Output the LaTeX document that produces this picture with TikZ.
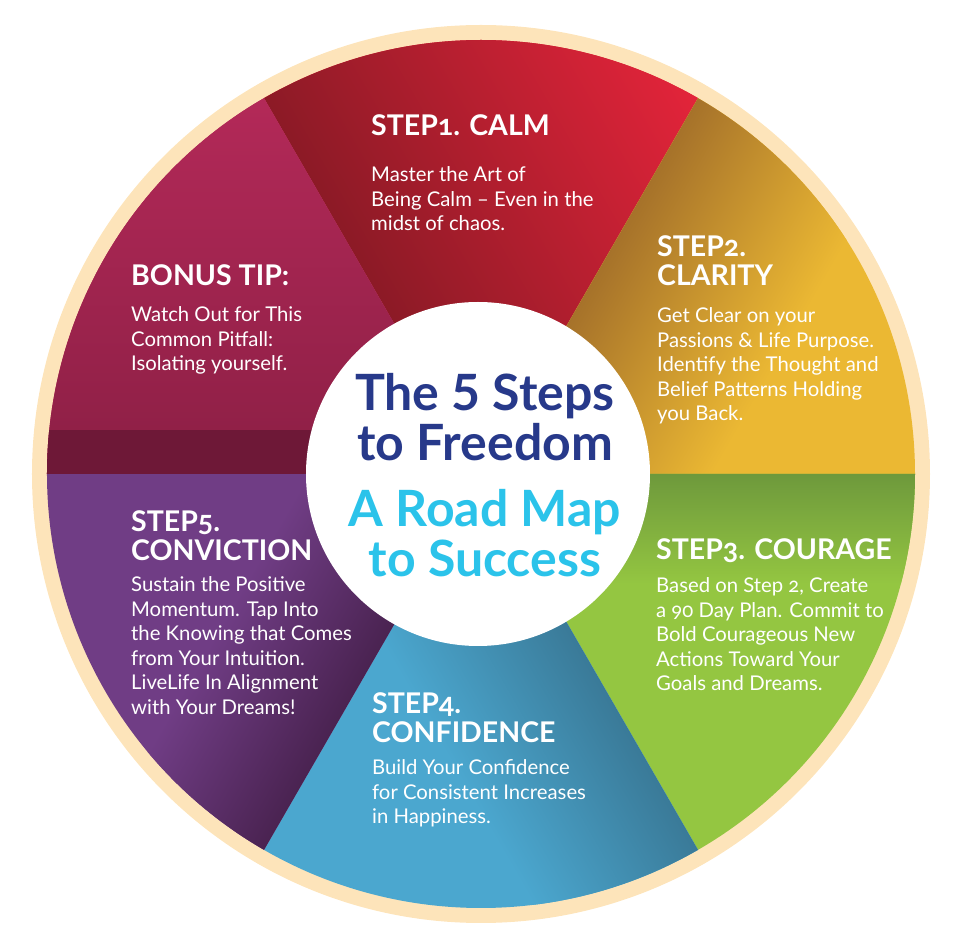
\documentclass[tikz,border=0pt]{standalone}
\usepackage{fontspec}
\setmainfont{Lato}[Numbers=OldStyle]
\newfontfamily\titlefont{Lato}
\usetikzlibrary{positioning}
\definecolor{cream}{HTML}{FDE4BA}
\definecolor{calmRed}{HTML}{E3243A}
\definecolor{calmDark}{HTML}{8C1A26}
\definecolor{clarityGold}{HTML}{EBB833}
\definecolor{clarityDark}{HTML}{A6722A}
\definecolor{courageGreen}{HTML}{94C641}
\definecolor{courageDark}{HTML}{6E993C}
\definecolor{confBlue}{HTML}{4BA7CF}
\definecolor{confDark}{HTML}{3A7A98}
\definecolor{convPurple}{HTML}{703D85}
\definecolor{convDark}{HTML}{4A2351}
\definecolor{bonusPink}{HTML}{B32958}
\definecolor{bonusDark}{HTML}{8C1F45}
\definecolor{bonusBand}{HTML}{6E1837}
\definecolor{titleNavy}{HTML}{27398A}
\definecolor{titleCyan}{HTML}{2BC3EA}
\tikzset{
  stepHead/.style={
    anchor=north west, inner sep=0pt, align=left, text=white,
    font=\fontsize{28.5}{29}\selectfont\bfseries,
    execute at begin node=\strut, execute at end node=\strut
  },
  stepBody/.style={
    inner sep=0pt, align=left, text=white,
    font=\fontsize{20.3}{24.5}\selectfont,
    execute at begin node=\strut
  },
  titleBase/.style={
    inner sep=0pt, align=center,
    font=\titlefont\bfseries\fontsize{50}{50}\selectfont,
    execute at begin node=\strut, execute at end node=\strut
  },
  titleDark/.style={titleBase, text=titleNavy},
  titleLight/.style={titleBase, text=titleCyan},
}
\begin{document}
\begin{tikzpicture}[x=1pt, y=1pt]
    \useasboundingbox (-481,-478) rectangle (475,474);
    % Wheel
    \fill[cream] (0,0) circle[radius=449];
    \foreach \ang/\main/\dark/\wid in {120/calmRed/calmDark/376, 60/clarityGold/clarityDark/200,
        0/courageGreen/courageDark/110, -60/confBlue/confDark/170,
        -120/convPurple/convDark/150, 180/bonusPink/bonusDark/376}{
      \begin{scope}[transform canvas={rotate=\ang}]
        \clip (0,0) -- (0:434) arc[start angle=0, end angle=-60, radius=434] -- cycle;
        \fill[\main] (0,0) circle[radius=440];
        \shade[top color=\dark, bottom color=\main] (0,-\wid) rectangle (440,0);
      \end{scope}
    }
    \begin{scope}
      \clip (0,0) -- (180:434) arc[start angle=180, end angle=120, radius=434] -- cycle;
      \fill[bonusBand] (-440,0) rectangle (0,44);
    \end{scope}
    \node[circle, fill=white, minimum size=344, inner sep=0pt] (hub) at (-3,0) {};

    % Bonus
    \node[stepHead] (bonusHead) at (-350,209.3) {BONUS TIP:};
    \node[stepBody, below=12pt of bonusHead.south west, anchor=north west] (bonusText)
      {Watch Out for This\\Common Pitfall:\\Isolating yourself.};

    % Step 1
    \node[stepHead] (calmHead) at (-110,359.3) {STEP1. CALM};
    \node[stepBody, below=22pt of calmHead.south west, anchor=north west] (calmText)
      {Master the Art of\\Being Calm – Even in the\\midst of chaos.};

    % Step 2
    \node[stepHead] (clarityHead) at (176,238.3) {STEP2.\\CLARITY};
    \node[stepBody, below=13pt of clarityHead.south west, anchor=north west] (clarityText)
      {Get Clear on your\\Passions \& Life Purpose.\\Identify the Thought and\\Belief Patterns Holding\\you Back.};

    % Step 3
    \node[stepHead] (courageHead) at (175,-64.7) {STEP3. COURAGE};
    \node[stepBody, below=9pt of courageHead.south west, anchor=north west] (courageText)
      {Based on Step 2, Create\\a 90 Day Plan. Commit to\\Bold Courageous New\\Actions Toward Your\\Goals and Dreams.};

    % Step 4
    \node[stepHead] (confHead) at (-109,-218.7) {STEP4.\\CONFIDENCE};
    \node[stepBody, below=8pt of confHead.south west, anchor=north west] (confText)
      {Build Your Confidence\\for Consistent Increases\\in Happiness.};

    % Step 5
    \node[stepHead] (convHead) at (-350,-36.7) {STEP5.\\CONVICTION};
    \node[stepBody, below=7pt of convHead.south west, anchor=north west] (convText)
      {Sustain the Positive\\Momentum. Tap Into\\the Knowing that Comes\\from Your Intuition.\\LiveLife In Alignment\\with Your Dreams!};

    % Title
    \node[titleDark, anchor=north] (titleTop) at (4,101) {The 5 Steps\\to Freedom};
    \node[titleLight, below=14pt of titleTop.south] (titleBottom) {A Road Map\\to Success};
\end{tikzpicture}
\end{document}
